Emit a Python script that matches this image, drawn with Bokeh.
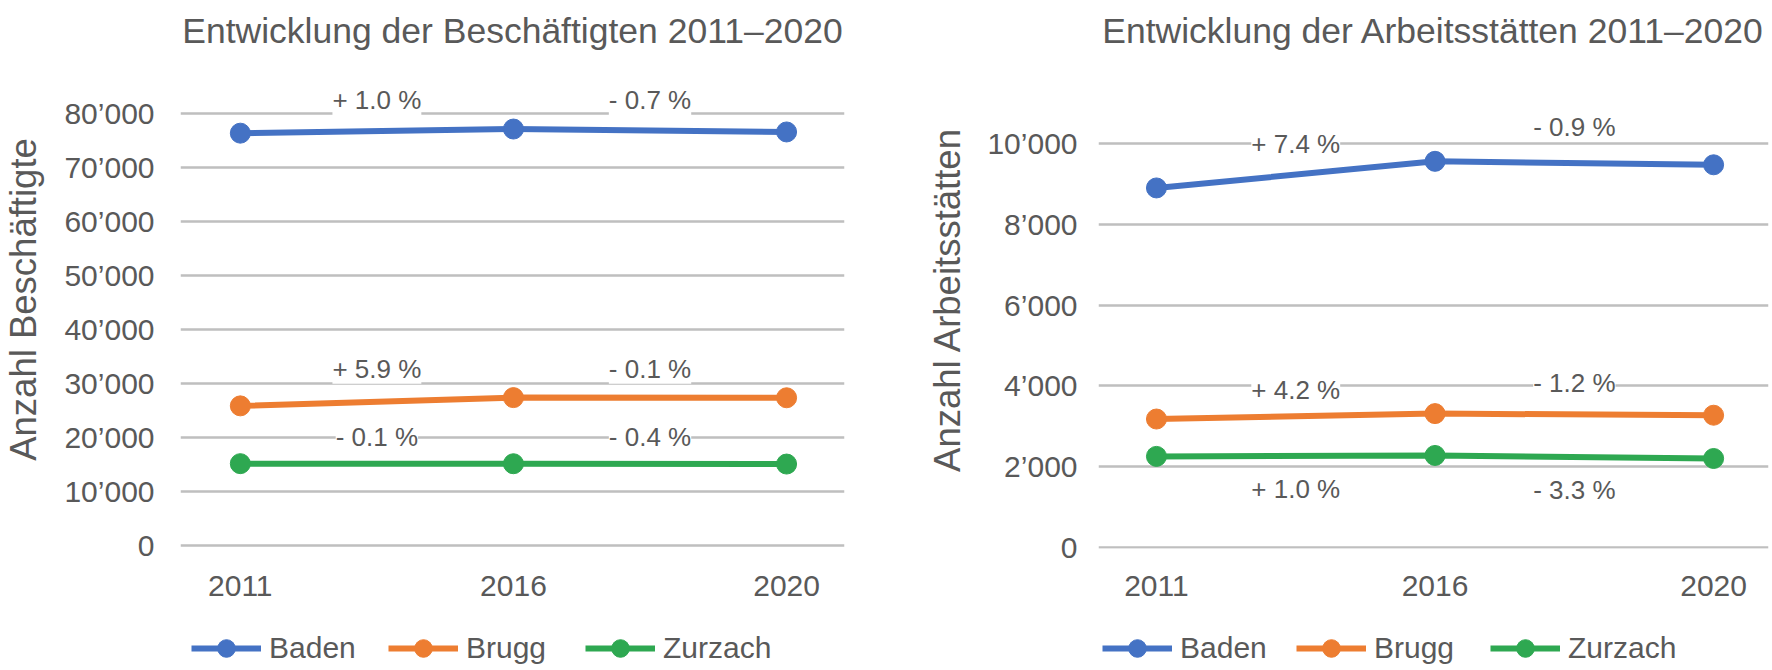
from bokeh.plotting import figure
from bokeh.models import Label, Legend, LegendItem, FixedTicker, Range1d
from bokeh.layouts import row, column
from bokeh.embed import file_html
from bokeh.resources import INLINE

# ---------------- data ----------------
years = ["2011", "2016", "2020"]
series_names = ["Baden", "Brugg", "Zurzach"]
series_colors = ["#4472C4", "#ED7D31", "#2EA851"]

emp_baden = [76450, 77215, 76675]
emp_brugg = [25950, 27480, 27450]
emp_zurzach = [15250, 15235, 15175]
emp_changes_baden = ["+ 1.0 %", "- 0.7 %"]
emp_changes_brugg = ["+ 5.9 %", "- 0.1 %"]
emp_changes_zurzach = ["- 0.1 %", "- 0.4 %"]

est_baden = [8900, 9559, 9473]
est_brugg = [3180, 3314, 3274]
est_zurzach = [2255, 2278, 2203]
est_changes_baden = ["+ 7.4 %", "- 0.9 %"]
est_changes_brugg = ["+ 4.2 %", "- 1.2 %"]
est_changes_zurzach = ["+ 1.0 %", "- 3.3 %"]

emp_ticks = [0, 10000, 20000, 30000, 40000, 50000, 60000, 70000, 80000]
emp_tick_labels = ["0", "10\u2019000", "20\u2019000", "30\u2019000", "40\u2019000",
                   "50\u2019000", "60\u2019000", "70\u2019000", "80\u2019000"]
est_ticks = [0, 2000, 4000, 6000, 8000, 10000]
est_tick_labels = ["0", "2\u2019000", "4\u2019000", "6\u2019000", "8\u2019000", "10\u2019000"]

TITLE_FONT = "'Liberation Sans', Arial, sans-serif"
NARROW = "'Liberation Sans', Arial, sans-serif"
GREY = "#595959"


def make_chart(title, ylabel, values, changes, ticks, tick_labels, y_rng, x_rng,
               width, border_left, border_right, offsets,
               tick_standoff, label_standoff):
    p = figure(width=width, height=604, output_backend="svg", toolbar_location=None,
               x_range=Range1d(*x_rng), y_range=Range1d(*y_rng),
               min_border_left=border_left, min_border_right=border_right,
               min_border_top=50, min_border_bottom=56)
    p.outline_line_color = None
    p.background_fill_color = "white"
    p.border_fill_color = "white"

    p.title.text = title
    p.title.text_font = TITLE_FONT
    p.title.text_font_size = "35.5px"
    p.title.text_font_style = "normal"
    p.title.text_color = GREY
    p.title.align = "center"
    p.title.standoff = 0

    xs = list(range(len(years)))
    for name, color, vals, chg, offs in zip(series_names, series_colors, values, changes, offsets):
        p.line(xs, vals, line_color=color, line_width=6)
        p.scatter(xs, vals, size=20, fill_color=color, line_color=color)
        for i, txt in enumerate(chg):
            xm = (xs[i] + xs[i + 1]) / 2
            ym = (vals[i] + vals[i + 1]) / 2
            p.add_layout(Label(x=xm, y=ym, y_offset=offs[i], text=txt,
                               text_align="center", text_baseline="middle",
                               text_font=NARROW, text_font_size="26px",
                               text_color=GREY, background_fill_color="white"))

    # axes
    p.xaxis.ticker = FixedTicker(ticks=xs)
    p.xaxis.major_label_overrides = {i: y for i, y in enumerate(years)}
    p.yaxis.ticker = FixedTicker(ticks=ticks)
    p.yaxis.major_label_overrides = {t: l for t, l in zip(ticks, tick_labels)}
    for ax in (p.xaxis[0], p.yaxis[0]):
        ax.axis_line_color = None
        ax.major_tick_line_color = None
        ax.minor_tick_line_color = None
        ax.major_label_text_font = NARROW
        ax.major_label_text_font_size = "30px"
        ax.major_label_text_color = GREY
    p.xaxis.major_label_standoff = 21
    p.yaxis.major_label_standoff = tick_standoff
    p.yaxis.axis_label = ylabel
    p.yaxis.axis_label_text_font = TITLE_FONT
    p.yaxis.axis_label_text_font_size = "36.5px"
    p.yaxis.axis_label_text_font_style = "normal"
    p.yaxis.axis_label_text_color = GREY
    p.yaxis.axis_label_standoff = label_standoff

    p.xgrid.grid_line_color = None
    p.ygrid.grid_line_color = "#BFBFBF"
    p.ygrid.grid_line_width = 2.5
    return p


def make_legend(values, width, legend_x, label_width):
    # legend strip below the chart; the series are drawn out of view so only the legend shows
    q = figure(width=width, height=66, output_backend="svg", toolbar_location=None,
               x_range=Range1d(100, 101), y_range=Range1d(-1, 0),
               x_axis_location=None, y_axis_location=None,
               min_border_left=0, min_border_right=0, min_border_top=0, min_border_bottom=0)
    q.outline_line_color = None
    q.grid.visible = False
    xs = list(range(len(years)))
    items = []
    for name, color, vals in zip(series_names, series_colors, values):
        lr = q.line(xs, vals, line_color=color, line_width=6)
        sr = q.scatter(xs, vals, size=20, fill_color=color, line_color=color)
        items.append(LegendItem(label=name, renderers=[lr, sr]))
    legend = Legend(items=items, orientation="horizontal", location=(legend_x, 0),
                    glyph_width=70, glyph_height=44, label_standoff=8, spacing=4,
                    label_width=label_width, padding=0, margin=0,
                    label_text_font=NARROW, label_text_font_size="30px",
                    label_text_color=GREY, background_fill_alpha=0,
                    border_line_alpha=0)
    q.add_layout(legend, "center")
    return q


p1 = make_chart("Entwicklung der Besch\u00e4ftigten 2011\u20132020", "Anzahl Besch\u00e4ftigte",
                [emp_baden, emp_brugg, emp_zurzach],
                [emp_changes_baden, emp_changes_brugg, emp_changes_zurzach],
                emp_ticks, emp_tick_labels, (-463, 91759), (-0.219, 2.212),
                880, 178, 36, [[31, 30], [33, 29], [27, 27]], 20, 17)
l1 = make_legend([emp_baden, emp_brugg, emp_zurzach], 880, 11, 115)

p2 = make_chart("Entwicklung der Arbeitsst\u00e4tten 2011\u20132020", "Anzahl Arbeitsst\u00e4tten",
                [est_baden, est_brugg, est_zurzach],
                [est_changes_baden, est_changes_brugg, est_changes_zurzach],
                est_ticks, est_tick_labels, (-25, 12302), (-0.208, 2.197),
                892, 218, 4, [[31, 36], [26, 31], [-33, -33]], 15, 16)
l2 = make_legend([est_baden, est_brugg, est_zurzach], 892, 4, 112)

layout = row(column(p1, l1), column(p2, l2))
open("out.html", "w").write(file_html(layout, INLINE))
